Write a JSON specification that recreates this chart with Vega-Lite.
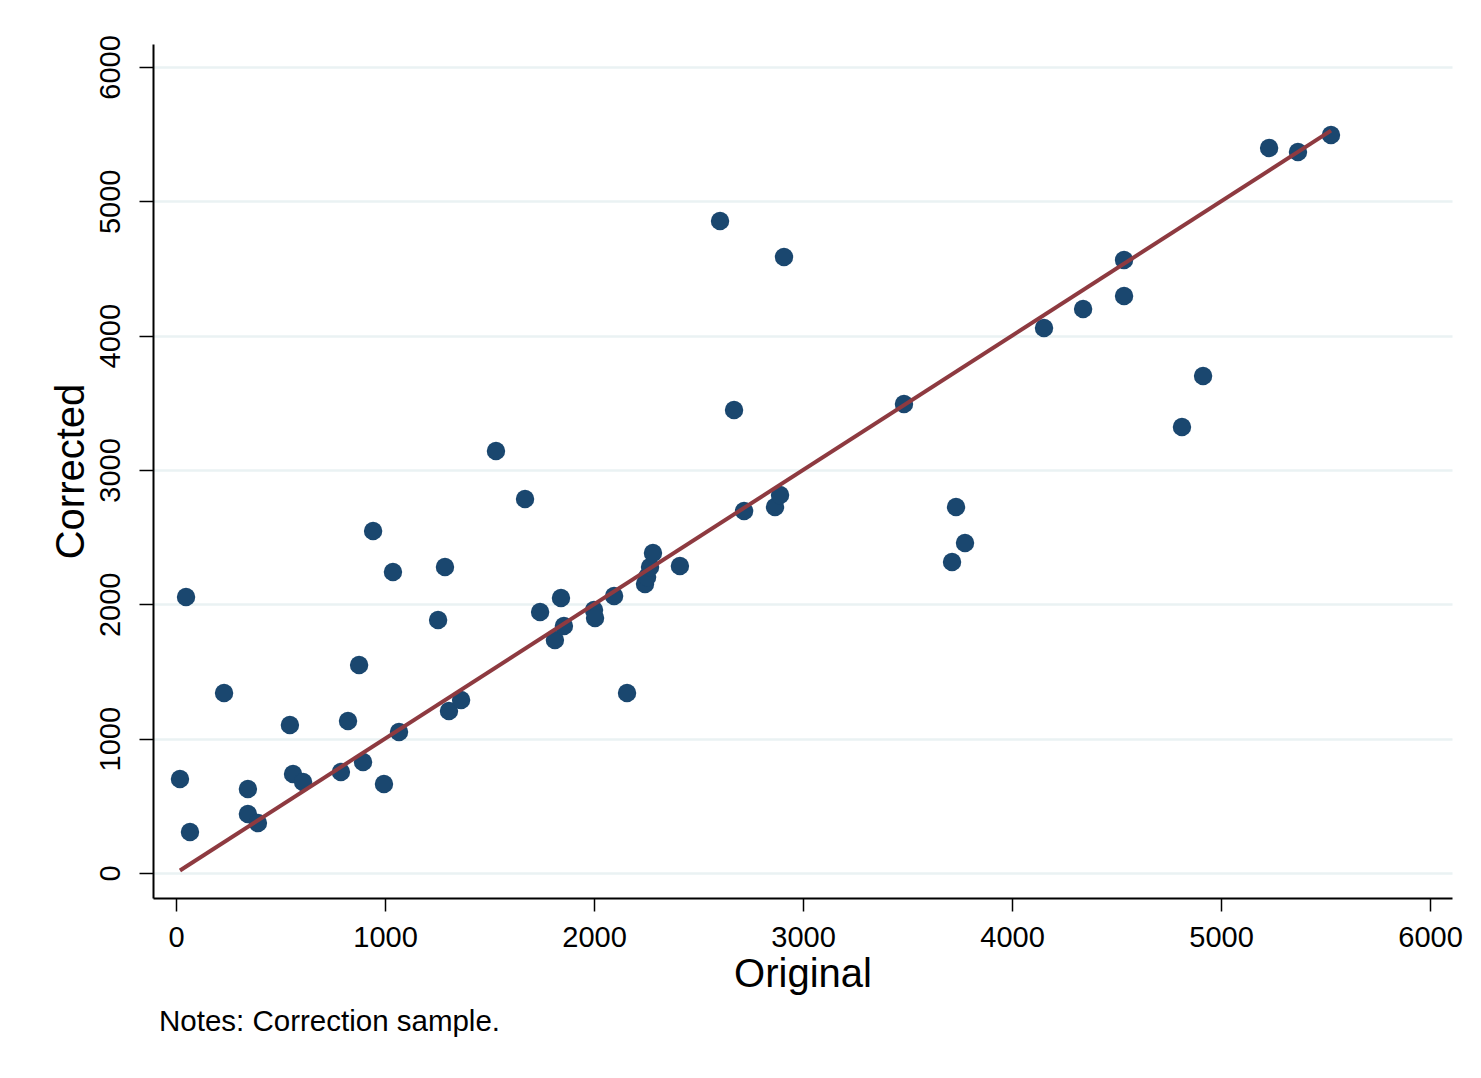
{
  "$schema": "https://vega.github.io/schema/vega-lite/v6.json",
  "autosize": {"type": "none"},
  "width": 1299,
  "height": 854,
  "padding": {"left": 153, "top": 44, "right": 29, "bottom": 180},
  "background": "white",
  "config": {
    "font": "Liberation Sans",
    "view": {"stroke": null},
    "axis": {"labelFont": "Liberation Sans", "titleFont": "Liberation Sans", "labelColor": "#000000", "titleColor": "#000000", "titleFontWeight": "normal", "domainColor": "#000000", "tickColor": "#000000"}
  },
  "title": {
    "text": "Notes: Correction sample.",
    "orient": "bottom",
    "anchor": "start",
    "frame": "group",
    "font": "Liberation Sans",
    "fontSize": 29.5,
    "fontWeight": "normal",
    "color": "#000000",
    "offset": 14,
    "dx": 6
  },
  "datasets": {
    "pts": [
      {"orig": 19, "corr": 700}, {"orig": 48, "corr": 2055}, {"orig": 67, "corr": 305},
      {"orig": 230, "corr": 1340}, {"orig": 344, "corr": 625}, {"orig": 344, "corr": 439},
      {"orig": 392, "corr": 372}, {"orig": 545, "corr": 1102}, {"orig": 560, "corr": 737},
      {"orig": 608, "corr": 677}, {"orig": 789, "corr": 752}, {"orig": 823, "corr": 1132},
      {"orig": 876, "corr": 1548}, {"orig": 895, "corr": 826}, {"orig": 943, "corr": 2546},
      {"orig": 995, "corr": 663}, {"orig": 1038, "corr": 2241}, {"orig": 1067, "corr": 1050},
      {"orig": 1254, "corr": 1883}, {"orig": 1287, "corr": 2278}, {"orig": 1306, "corr": 1206},
      {"orig": 1364, "corr": 1288}, {"orig": 1531, "corr": 3141}, {"orig": 1670, "corr": 2784},
      {"orig": 1742, "corr": 1943}, {"orig": 1813, "corr": 1735}, {"orig": 1842, "corr": 2047},
      {"orig": 1856, "corr": 1839}, {"orig": 2000, "corr": 1958}, {"orig": 2005, "corr": 1898},
      {"orig": 2096, "corr": 2062}, {"orig": 2158, "corr": 1340}, {"orig": 2244, "corr": 2151},
      {"orig": 2254, "corr": 2204}, {"orig": 2268, "corr": 2278}, {"orig": 2282, "corr": 2382},
      {"orig": 2411, "corr": 2285}, {"orig": 2603, "corr": 4854}, {"orig": 2670, "corr": 3447},
      {"orig": 2718, "corr": 2695}, {"orig": 2866, "corr": 2725}, {"orig": 2890, "corr": 2814},
      {"orig": 2909, "corr": 4586}, {"orig": 3483, "corr": 3491}, {"orig": 3713, "corr": 2315},
      {"orig": 3732, "corr": 2725}, {"orig": 3775, "corr": 2457}, {"orig": 4153, "corr": 4057},
      {"orig": 4340, "corr": 4199}, {"orig": 4536, "corr": 4563}, {"orig": 4536, "corr": 4295},
      {"orig": 4813, "corr": 3320}, {"orig": 4914, "corr": 3700}, {"orig": 5230, "corr": 5397},
      {"orig": 5368, "corr": 5367}, {"orig": 5526, "corr": 5494}
    ],
    "fit": [
      {"orig": 19, "corr": 19},
      {"orig": 5526, "corr": 5526}
    ]
  },
  "layer": [
    {
      "data": {"name": "pts"},
      "mark": {"type": "point", "shape": "circle", "filled": true, "size": 340, "color": "#1A476F", "opacity": 1},
      "encoding": {
        "x": {
          "field": "orig", "type": "quantitative", "title": "Original",
          "scale": {"domain": [-110, 6105], "nice": false, "zero": false},
          "axis": {
            "values": [0, 1000, 2000, 3000, 4000, 5000, 6000],
            "format": "d",
            "grid": false,
            "domainWidth": 2,
            "tickWidth": 1.5,
            "tickSize": 13,
            "labelFontSize": 29,
            "labelPadding": 12,
            "titleFontSize": 40,
            "titlePadding": 2
          }
        },
        "y": {
          "field": "corr", "type": "quantitative", "title": "Corrected",
          "scale": {"domain": [-186, 6171], "nice": false, "zero": false},
          "axis": {
            "values": [0, 1000, 2000, 3000, 4000, 5000, 6000],
            "format": "d",
            "grid": true,
            "gridColor": "#EAF2F3",
            "gridWidth": 2.5,
            "gridOpacity": 1,
            "domainWidth": 2,
            "tickWidth": 1.5,
            "tickSize": 14,
            "labelFontSize": 29,
            "labelAngle": -90,
            "labelAlign": "center",
            "labelBaseline": "bottom",
            "labelPadding": 14,
            "titleFontSize": 40,
            "titlePadding": 5
          }
        }
      }
    },
    {
      "data": {"name": "fit"},
      "mark": {"type": "line", "color": "#8E3A40", "strokeWidth": 4},
      "encoding": {
        "x": {"field": "orig", "type": "quantitative"},
        "y": {"field": "corr", "type": "quantitative"}
      }
    }
  ]
}
